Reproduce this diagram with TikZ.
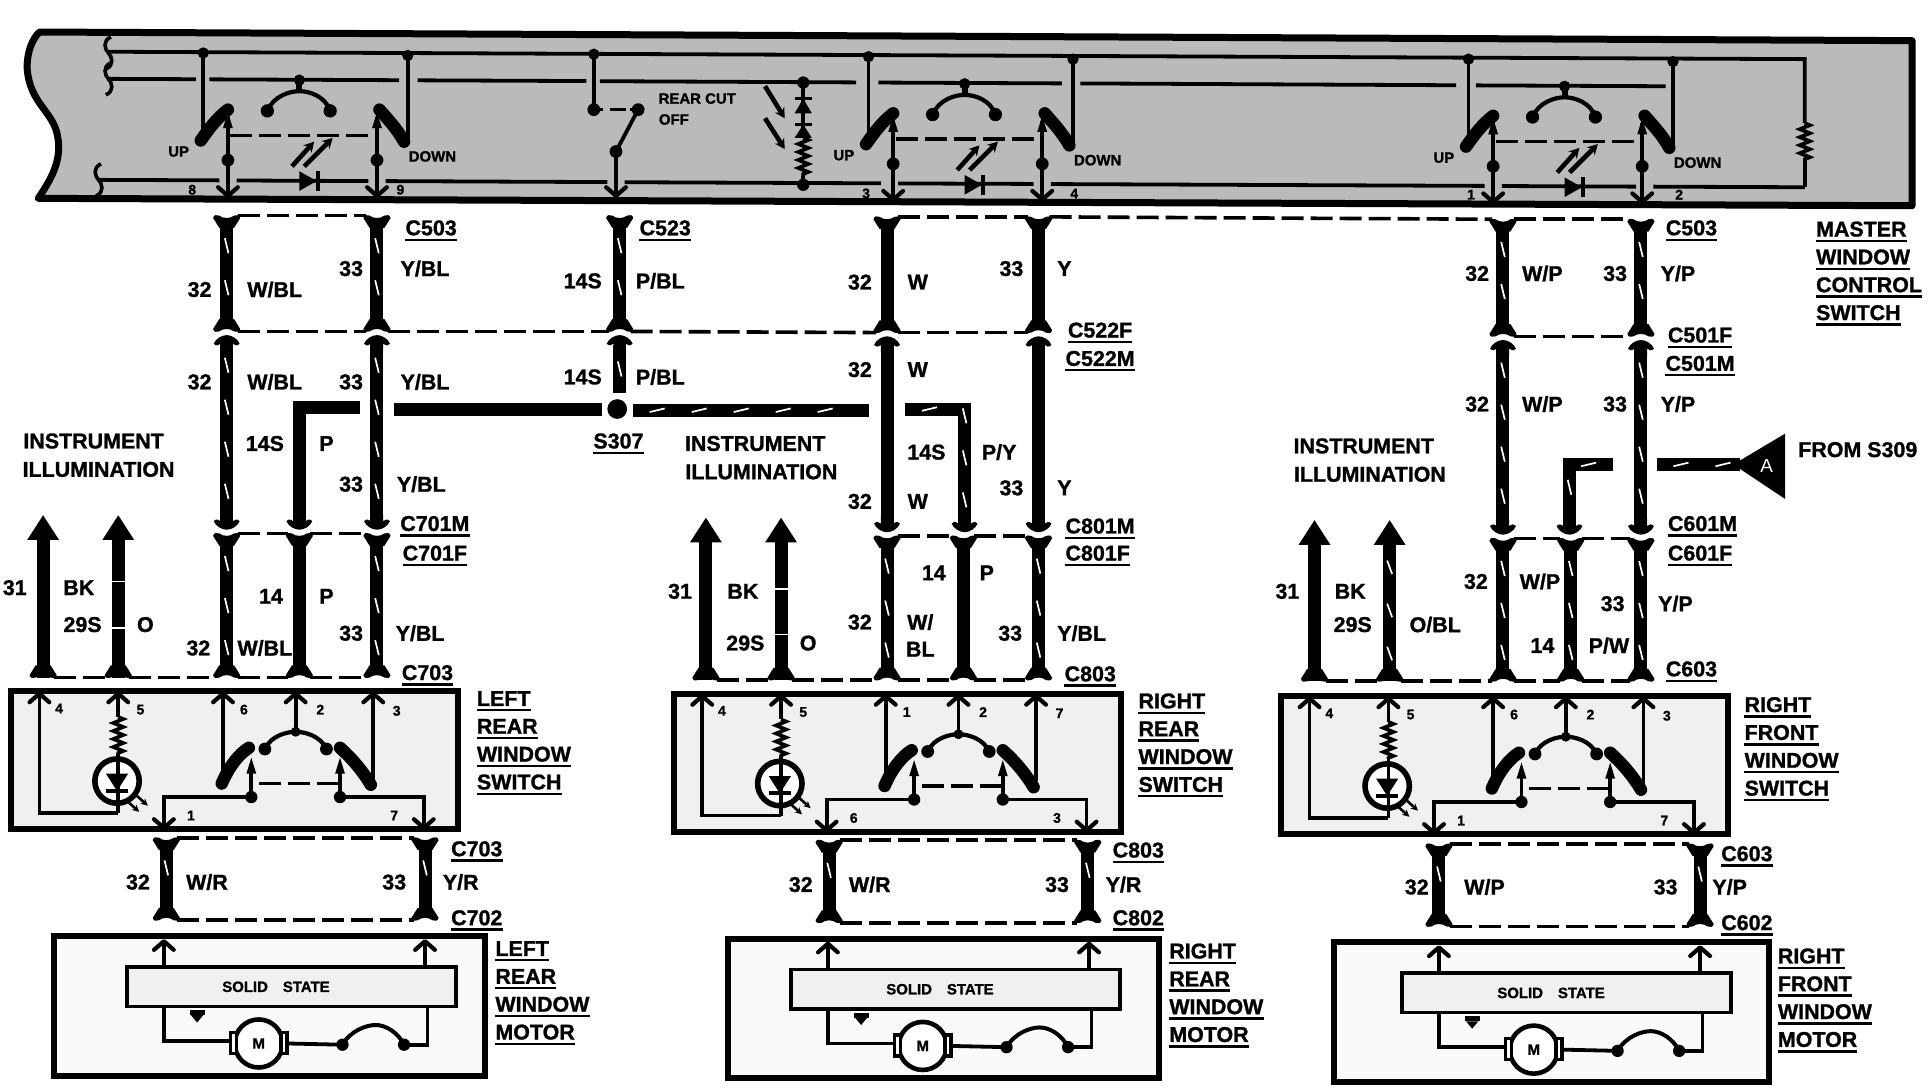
\documentclass[tikz,border=0pt]{standalone}
\usepackage{fontspec}
\setmainfont{Liberation Sans}[BoldFeatures={FakeBold=1.2}]
\usetikzlibrary{arrows.meta,decorations.pathmorphing,decorations.markings}
\newcount\nodeid
\newcommand\nid{\global\advance\nodeid by 1 \edef\curid{n\the\nodeid}}
\tikzset{
  lab/.style={inner sep=0pt,font=\bfseries\fontsize{21.5}{24}\selectfont,text=black},
  midlab/.style={inner sep=0pt,font=\bfseries\fontsize{15}{17}\selectfont,text=black},
  numlab/.style={inner sep=0pt,font=\bfseries\fontsize{14}{16}\selectfont,text=black},
  ul/.style={line width=2.4bp,black},
  wirew/.style={line width=13bp,black},
  thin1/.style={line width=3.8bp,black,line join=miter},
  thick1/.style={line width=12.5bp,black,line cap=round},
  dashl/.style={line width=3.6bp,black,dash pattern=on 22bp off 7bp,shorten >=11bp,shorten <=11bp},
  dashm/.style={line width=3.6bp,black,dash pattern=on 22bp off 7bp},
  forkl/.style={line width=4.2bp,black,line cap=round,line join=round},
  dotf/.style={fill=black,draw=none},
  stripes/.style={postaction={decorate,decoration={markings,mark=between positions 24bp and -14bp step 42bp with {\draw[white,line width=1.7bp] (-7.5bp,-1.8bp)--(7.5bp,1.8bp);}}}},
  zz/.style={line width=3.6bp,black,decorate,decoration={zigzag,segment length=8bp,amplitude=5bp}},
  boxl/.style={line width=6bp,black},
  panel/.style={line width=7bp,black,fill=black!27,line join=round},
  swbox/.style={boxl,fill=black!6},
  motbox/.style={boxl,fill=black!2},
  ssbox/.style={line width=3.6bp,black,fill=black!6},
  uparrow/.style={line width=13bp,black,-{Triangle[length=25bp,width=30bp]}},
  bolt/.style={line width=4.6bp,black,-{Stealth[length=10bp,width=11bp]}}
}
\newcommand\Lab[3]{\nid\node[lab] (\curid) at (#1,#2) {#3};}
\newcommand\MLab[3]{\nid\node[midlab] (\curid) at (#1,#2) {#3};}
\newcommand\NLab[3]{\nid\node[numlab] (\curid) at (#1,#2) {#3};}
\newcommand\ULab[4][center]{\nid\node[lab,anchor=#1] (\curid) at (#2,#3) {#4};
  \draw[ul] ([yshift=-4bp]\curid.south west)--([yshift=-4bp]\curid.south east);}
\newcommand\Stack[6]{\ULab[west]{#1}{#2}{#3}\ULab[west]{#1}{#2+22.6}{#4}\ULab[west]{#1}{#2+45.2}{#5}\ULab[west]{#1}{#2+67.8}{#6}}
\newcommand\ForkU[2]{\draw[forkl] (#1-8,#2-7)--(#1,#2)--(#1+8,#2-7);}
\newcommand\ForkD[2]{\draw[forkl] (#1-8,#2+7)--(#1,#2)--(#1+8,#2+7);}
% flared socket end: #3 = 1 wings up (wire below), #3 = -1 wings down
\newcommand\SockG[3]{\fill[dotf] (#1-6,#2+#3*10) -- (#1-11,#2+#3*2) .. controls (#1-10.5,#2+#3*-0.8) and (#1-8,#2+#3*-0.8) .. (#1-6,#2) .. controls (#1-3,#2+#3*2.6) and (#1+3,#2+#3*2.6) .. (#1+6,#2) .. controls (#1+8,#2+#3*-0.8) and (#1+10.5,#2+#3*-0.8) .. (#1+11,#2+#3*2) -- (#1+6,#2+#3*10) -- cycle;}
% pin end: tip at y, #3 = 1 body below, #3 = -1 body above
\newcommand\PinG[3]{\fill[dotf] (#1-10.5,#2+#3*7) .. controls (#1-9,#2+#3*3) and (#1-4,#2) .. (#1,#2) .. controls (#1+4,#2) and (#1+9,#2+#3*3) .. (#1+10.5,#2+#3*7) .. controls (#1+8.5,#2+#3*9) and (#1+6.5,#2+#3*8.5) .. (#1+5,#2+#3*7) -- (#1+5,#2+#3*13) -- (#1-5,#2+#3*13) -- (#1-5,#2+#3*7) .. controls (#1-6.5,#2+#3*8.5) and (#1-8.5,#2+#3*9) .. cycle;}
\newcommand\Wire[7][]{\coordinate (#2-t) at (#3,#4);\coordinate (#2-b) at (#3,#5);
  \draw[wirew,#1] (#3,#4+5)--(#3,#5-5);#6{#3}{#4}{1}#7{#3}{#5}{-1}}
\newcommand\DL[2]{\draw[dashl] (#1)--(#2);}
\newcommand\Brk[2]{\draw[line width=3.6bp,black] (#1+2,#2-13) .. controls (#1-5,#2-10) and (#1-3,#2-3) .. (#1,#2) .. controls (#1+3,#2+3) and (#1+5,#2+10) .. (#1-2,#2+13);}
\newcommand\Dot[3][4.6]{\fill[dotf] (#2,#3) circle[radius=#1];}
\newcommand\Bolts[2]{\draw[bolt] (#1-15,#2+9)--(#1+3,#2-11);\draw[bolt] (#1-5,#2+9)--(#1+18,#2-14);}
\newcommand\DiodeH[2]{\fill[dotf] (#1-7,#2-8)--(#1+7,#2)--(#1-7,#2+8)--cycle;\draw[line width=3.6bp,black] (#1+8,#2-8)--(#1+8,#2+8);}
% master switch group
\newcommand\MSw[7]{\begin{scope}[shift={(#2,#3)}]
  \coordinate (#1-up) at (165,43);\coordinate (#1-dn) at (331,45);
  \coordinate (#1-u2) at (185,95);\coordinate (#1-d2) at (306,95);
  \draw[thin1] (#1-up)--(165,110);
  \draw[thin1] (#1-dn)--(331,116);
  \Dot{165}{43}\Dot{331}{45}
  \draw[thick1] (163,114) .. controls (170,104) and (176,96) .. (185,89);
  \draw[thick1] (308,89) .. controls (314,96) and (322,104) .. (328,115);
  \Dot[4.6]{243}{65}
  \draw[line width=6bp,black] (243,66)--(243,75);
  \draw[line width=4.2bp,black] (217,90) .. controls (222,78) and (235,74) .. (243,74) .. controls (251,74) and (264,78) .. (268,90);
  \Dot[5.4]{217}{90}\Dot[5.4]{268}{90}
  \draw[thin1] (#1-u2)--(185,160);\draw[thin1] (#1-d2)--(306,160);
  \Dot[5.2]{185}{130}\Dot[5.2]{306}{130}
  \ForkU{185}{159}\ForkU{306}{159}
  \fill[dotf] (181,104)--(185,91)--(189,104)--cycle;\fill[dotf] (302,104)--(306,91)--(310,104)--cycle;
  \draw[dashm] (187,110)--(306,110);
  \Bolts{252}{126}
  \DiodeH{250}{147}
  \MLab{145}{123}{UP}\MLab{351}{127}{DOWN}
  \NLab{#6}{#7}{#4}\NLab{#6+169}{#7}{#5}
\end{scope}}
% switch module
\newcommand\WinSwitch[8]{\begin{scope}[shift={(#2,#3)}]
  \draw[swbox] (9,561) rectangle (372,673);
  \coordinate (#1-p4) at (32,563);\coordinate (#1-p5) at (96,563);
  \coordinate (#1-p6) at (181,563);\coordinate (#1-p2) at (240,563);\coordinate (#1-p3) at (303,563);
  \draw[thin1] (#1-p4)--(32,660)--(96,660);
  \draw[thin1] (#1-p5)--(96,582);
  \draw[zz] (96,582)--(96,612);
  \draw[thin1] (96,612)--(96,616);
  \draw[line width=5.6bp,black,fill=white] (95,634) circle[radius=18];
  \fill[dotf] (86,628)--(104,628)--(95,642)--cycle;
  \draw[thin1] (86,642)--(104,642);
  \draw[thin1] (96,616)--(96,660);
  \draw[bolt,line width=2.6bp,-{Stealth[length=7bp,width=7bp]}] (103,650)--(113,659);\draw[bolt,line width=2.6bp,-{Stealth[length=7bp,width=7bp]}] (110,645)--(120,654);
  \ForkD{32}{563}\ForkD{96}{563}\ForkD{181}{563}\ForkD{240}{563}\ForkD{303}{563}
  \NLab{48}{575}{4}\NLab{114}{576}{5}\NLab{198}{576}{#4}\NLab{260}{576}{#5}\NLab{322}{577}{#6}
  \draw[thin1] (#1-p6)--(181,630);
  \draw[thin1] (#1-p2)--(240,594);
  \draw[thin1] (#1-p3)--(303,632);
  \draw[thick1] (180,636) .. controls (186,622) and (194,612) .. (202,607);
  \draw[thick1] (276,607) .. controls (284,614) and (294,625) .. (301,637);
  \draw[line width=4.2bp,black] (215,608) .. controls (220,597) and (233,594) .. (240,594) .. controls (247,594) and (260,597) .. (265,608);
  \Dot[5.2]{215}{608}\Dot[5.2]{265}{608}
  \Dot[4]{240}{594}
  \fill[dotf] (200,628)--(204,615)--(208,628)--cycle;\fill[dotf] (272,628)--(276,615)--(280,628)--cycle;
  \draw[thin1] (204,620)--(204,647);\draw[thin1] (276,620)--(276,647);
  \draw[dashm] (210,636)--(276,636);
  \Dot[5]{204}{647}\Dot[5]{276}{647}
  \draw[thin1] (204,647)--(133,647)--(133,672);\draw[thin1] (276,647)--(344,647)--(344,672);
  \ForkU{133}{672}\ForkU{344}{672}
  \NLab{155}{662}{#7}\NLab{320}{662}{#8}
\end{scope}}
% motor module
\newcommand\WinMotor[5]{\draw[motbox] (#4,760+#3) rectangle (#5,873+#3);
\begin{scope}[shift={(#2,#3)}]
  \coordinate (#1-l) at (133,764);\coordinate (#1-r) at (345,764);
  \draw[thin1] (#1-l)--(133,785);\draw[thin1] (#1-r)--(345,785);
  \ForkD{133}{764}\ForkD{345}{764}
  \draw[ssbox] (103,785) rectangle (370,817);
  \MLab{224}{801}{SOLID\quad STATE}
  \fill[dotf] (154,820) rectangle (166,824);\fill[dotf] (155,824)--(165,824)--(160,830)--cycle;
  \draw[thin1] (133,817)--(133,845)--(187,845);
  \draw[line width=4.6bp,black,fill=white] (210,847) circle[radius=19.5];
  \draw[line width=3.6bp,black,fill=white] (187,838) rectangle (192,855);
  \draw[line width=3.6bp,black,fill=white] (228,838) rectangle (233,855);
  \node[midlab] (#1-m) at (210,847) {M};
  \draw[thin1] (233,847)--(278,848);
  \draw[line width=4bp,black] (278,848) .. controls (285,836) and (298,832) .. (305,832) .. controls (313,832) and (323,838) .. (328,848);
  \Dot[5]{278}{848}\Dot[5]{328}{848}
  \draw[thin1] (328,848)--(347,848)--(347,817);
\end{scope}}
\begin{document}
\begin{tikzpicture}[x=1.232bp,y=-1.232bp]
\useasboundingbox (0,0) rectangle (1565,883);
% master panel
\draw[panel] (32,26) -- (1552,33) -- (1552,167) -- (31,161) .. controls (42,145) and (50,130) .. (47,112) .. controls (44,90) and (24,85) .. (22,55) .. controls (22,42) and (26,32) .. (32,26) -- cycle;
\Brk{88}{43}\Brk{88}{64}\Brk{80}{146}
\draw[thin1] (88,42)--(1465,48)--(1465,100);
\draw[zz] (1465,100)--(1465,130);
\draw[thin1] (1465,130)--(1465,152);
\draw[thin1] (87,64)--(159,64.3) (170,64.4)--(324,65.1) (339,65.2)--(476,65.8) (487,65.9)--(695,66.9) (713,67)--(862,67.7) (877,67.7)--(1182,69.2) (1198,69.3)--(1352,70);
\draw[thin1] (80,146)--(178,146.4) (192,146.5)--(299,147) (313,147)--(493,147.8) (507,147.9)--(715,148.8) (729,148.9)--(839,149.3) (853,149.4)--(1205,150.9) (1219,151)--(1328,151.5) (1342,151.5)--(1465,152);
\MSw{sa}{0}{0}{8}{9}{156}{154}
\MSw{sb}{540}{3}{3}{4}{163}{154}
\MSw{sc}{1027}{5}{1}{2}{167}{153}
% rear cut off
\coordinate (rc1) at (482,44);\coordinate (rc2) at (482,89);\coordinate (rc3) at (518,89);\coordinate (rc4) at (500,123);\coordinate (rc5) at (500,160);
\Dot{482}{44}
\draw[thin1] (rc1)--(rc2);
\draw[dashm,dash pattern=on 9bp off 7bp on 16bp off 4bp] (rc2)--(rc3);
\Dot[5.2]{482}{89}\Dot[5.2]{518}{89}\Dot[5.2]{500}{123}
\draw[line width=3.8bp,black] (rc3)--(rc4);
\draw[thin1] (rc4)--(rc5);\ForkU{500}{159}
\MLab{566}{80}{REAR CUT}\MLab{547}{97}{OFF}
% panel stack
\Dot[5]{652}{67}
\draw[thin1] (652,67)--(652,112);
\fill[dotf] (645,92)--(659,92)--(652,80)--cycle;
\draw[line width=3.8bp,black] (645,80)--(659,80);
\fill[dotf] (645,112)--(659,112)--(652,101)--cycle;
\draw[line width=3.8bp,black] (645,101)--(659,101);
\draw[zz] (652,112)--(652,143);
\draw[thin1] (652,143)--(652,150);
\Dot[5]{652}{150}
\draw[bolt] (621,70)--(637,96);\draw[bolt] (621,96)--(637,121);
% top wires
\Wire[stripes]{a1}{184}{175}{269}{\SockG}{\SockG}
\Wire[stripes]{a2}{306}{175}{269}{\SockG}{\SockG}
\Wire[stripes]{a3}{503}{175}{269}{\SockG}{\SockG}
\Wire{b1}{720}{176}{270}{\SockG}{\SockG}
\Wire{b2}{843}{176}{270}{\SockG}{\SockG}
\Wire[stripes]{c1}{1220}{178}{273}{\SockG}{\SockG}
\Wire[stripes]{c2}{1332}{178}{273}{\SockG}{\SockG}
\DL{a1-t}{a2-t}\DL{b1-t}{b2-t}\DL{b2-t}{c1-t}\DL{c1-t}{c2-t}
\DL{a1-b}{a2-b}\DL{a2-b}{a3-b}\DL{a3-b}{b1-b}\DL{b1-b}{b2-b}\DL{c1-b}{c2-b}
% middle wires
\Wire[stripes]{d1}{184}{272}{430}{\PinG}{\PinG}
\Wire[stripes]{d2}{306}{272}{430}{\PinG}{\PinG}
\Wire{e1}{720}{273}{432}{\PinG}{\PinG}
\Wire{e2}{843}{273}{432}{\PinG}{\PinG}
\Wire[stripes]{f1}{1220}{276}{434}{\PinG}{\PinG}
\Wire[stripes]{f2}{1332}{276}{434}{\PinG}{\PinG}
% centre feed
\coordinate (s307) at (501,332);
\coordinate (a3m) at (503,280);\coordinate (a3e) at (503,319);
\draw[wirew,stripes] (a3m)--(a3e);\PinG{503}{272}{1}
\coordinate (pa) at (292,331);\coordinate (pb) at (243,331);\coordinate (pc) at (243,425);
\draw[wirew,line join=miter] (pa)--(pb)--(pc);\PinG{243}{430}{-1}
\coordinate (pd) at (320,332);\coordinate (pdd) at (488.5,332);\coordinate (pf) at (514,333);\coordinate (pe) at (705,333);
\draw[wirew] (pd)--(pdd);
\draw[wirew,stripes] (pf)--(pe);
\fill[dotf] (s307) circle[radius=8];
\coordinate (qa) at (735,332);\coordinate (qb) at (783,332);\coordinate (qc) at (783,427);
\draw[wirew,stripes,line join=miter] (qa)--(qb)--(qc);\PinG{783}{432}{-1}
\coordinate (ra) at (1309,377);\coordinate (rb) at (1274,377);\coordinate (rc) at (1274,429);
\draw[wirew,stripes,line join=miter] (ra)--(rb)--(rc);\PinG{1274}{434}{-1}
\coordinate (rd) at (1345,377);\coordinate (re) at (1412,377);
\draw[wirew,stripes] (rd)--(re);
\fill[dotf] (1407,377)--(1449,352)--(1449,405)--cycle;
\node[lab,text=white,font=\fontsize{19}{20}\selectfont] (tA) at (1434,378) {A};
% low wires
\Wire[stripes]{g1}{184}{433}{550}{\SockG}{\SockG}
\Wire{g2}{243}{433}{550}{\SockG}{\SockG}
\Wire[stripes]{g3}{306}{433}{550}{\SockG}{\SockG}
\Wire[stripes]{h1}{720}{435}{552}{\SockG}{\SockG}
\Wire{h2}{782}{435}{552}{\SockG}{\SockG}
\Wire[stripes]{h3}{843}{435}{552}{\SockG}{\SockG}
\Wire[stripes]{i1}{1220}{437}{553}{\SockG}{\SockG}
\Wire[stripes]{i2}{1275}{437}{553}{\SockG}{\SockG}
\Wire[stripes]{i3}{1332}{437}{553}{\SockG}{\SockG}
\DL{g1-t}{g2-t}\DL{g2-t}{g3-t}\DL{h1-t}{h2-t}\DL{h2-t}{h3-t}\DL{i1-t}{i2-t}\DL{i2-t}{i3-t}
% illumination arrows
\coordinate (ja) at (35,550);\coordinate (jb) at (35,418);\coordinate (jc) at (96,550);\coordinate (jd) at (96,418);
\coordinate (ka) at (573,552);\coordinate (kb) at (573,420);\coordinate (kc) at (634,552);\coordinate (kd) at (634,420);
\coordinate (la) at (1067,553);\coordinate (lb) at (1067,422);\coordinate (lc) at (1128,553);\coordinate (ld) at (1128,422);
\draw[uparrow] (ja)--(jb);\draw[uparrow] (jc)--(jd);\draw[uparrow] (ka)--(kb);\draw[uparrow] (kc)--(kd);\draw[uparrow] (la)--(lb);\draw[uparrow] (lc)--(ld);
\SockG{35}{550}{-1}\SockG{96}{550}{-1}\SockG{573}{552}{-1}\SockG{634}{552}{-1}\SockG{1067}{553}{-1}\SockG{1128}{553}{-1}
\draw[white,line width=1.8bp] (90,472)--(102,472) (90,510)--(102,510);
\draw[white,line width=1.8bp] (628,478)--(640,478) (628,515)--(640,515);
\draw[white,line width=1.7bp] (1126,455)--(1130,466) (1126,490)--(1130,501) (1126,525)--(1130,536);
\DL{ja}{jc}\DL{jc}{g1-b}\DL{g1-b}{g2-b}\DL{g2-b}{g3-b}
\DL{ka}{kc}\DL{kc}{h1-b}\DL{h1-b}{h2-b}\DL{h2-b}{h3-b}
\DL{la}{lc}\DL{lc}{i1-b}\DL{i1-b}{i2-b}\DL{i2-b}{i3-b}
% modules
\WinSwitch{ma}{0}{0}{6}{2}{3}{1}{7}
\WinSwitch{mb}{538}{2}{1}{2}{7}{6}{3}
\WinSwitch{mc}{1031}{4}{6}{2}{3}{1}{7}
% lower wires
\Wire[stripes]{la1}{135}{680}{747}{\SockG}{\SockG}\Wire[stripes]{la2}{345}{680}{747}{\SockG}{\SockG}
\Wire[stripes]{lb1}{673}{682}{749}{\SockG}{\SockG}\Wire[stripes]{lb2}{883}{682}{749}{\SockG}{\SockG}
\Wire[stripes]{lc1}{1168}{685}{752}{\SockG}{\SockG}\Wire[stripes]{lc2}{1380}{685}{752}{\SockG}{\SockG}
\DL{la1-t}{la2-t}\DL{la1-b}{la2-b}
\DL{lb1-t}{lb2-t}\DL{lb1-b}{lb2-b}
\DL{lc1-t}{lc2-t}\DL{lc1-b}{lc2-b}
\WinMotor{oa}{0}{0}{44}{394}
\WinMotor{ob}{539}{2}{591}{941}
\WinMotor{oc}{1035}{5}{1083}{1436}
% labels left column
\ULab{350}{185}{C503}\ULab{540}{185}{C523}
\Lab{162}{235}{32}\Lab{223}{235}{W/BL}\Lab{285}{218}{33}\Lab{345}{218}{Y/BL}
\Lab{473}{228}{14S}\Lab{536}{228}{P/BL}\Lab{473}{306}{14S}\Lab{536}{306}{P/BL}
\ULab{502}{358}{S307}
\Lab{162}{310}{32}\Lab{223}{310}{W/BL}\Lab{285}{310}{33}\Lab{345}{310}{Y/BL}
\Lab{215}{360}{14S}\Lab{265}{360}{P}\Lab{285}{393}{33}\Lab{342}{393}{Y/BL}
\ULab{353}{425}{C701M}\ULab{353}{449}{C701F}
\Lab{220}{484}{14}\Lab{265}{484}{P}\Lab{285}{514}{33}\Lab{341}{514}{Y/BL}
\Lab{161}{526}{32}\Lab{215}{526}{W/BL}\ULab{347}{546}{C703}
\Lab{76}{358}{INSTRUMENT}\Lab{80}{381}{ILLUMINATION}
\Lab{12}{477}{31}\Lab{64}{477}{BK}\Lab{67}{507}{29S}\Lab{118}{507}{O}
\Stack{387}{567}{LEFT}{REAR}{WINDOW}{SWITCH}
\ULab{387}{689}{C703}\ULab{387}{745}{C702}
\Lab{112}{716}{32}\Lab{168}{716}{W/R}\Lab{320}{716}{33}\Lab{374}{716}{Y/R}
\Stack{402}{770}{LEFT}{REAR}{WINDOW}{MOTOR}
% labels middle column
\ULab{893}{268}{C522F}\ULab{893}{291}{C522M}
\Lab{698}{229}{32}\Lab{745}{229}{W}\Lab{821}{218}{33}\Lab{864}{218}{Y}
\Lab{698}{300}{32}\Lab{745}{300}{W}
\Lab{752}{367}{14S}\Lab{811}{367}{P/Y}\Lab{821}{396}{33}\Lab{864}{396}{Y}
\Lab{698}{407}{32}\Lab{745}{407}{W}
\Lab{758}{465}{14}\Lab{801}{465}{P}
\Lab{698}{505}{32}\Lab{747}{505}{W/}\Lab{747}{527}{BL}\Lab{820}{514}{33}\Lab{878}{514}{Y/BL}
\ULab{893}{427}{C801M}\ULab{891}{449}{C801F}\ULab{885}{547}{C803}
\Lab{613}{360}{INSTRUMENT}\Lab{618}{383}{ILLUMINATION}
\Lab{552}{480}{31}\Lab{603}{480}{BK}\Lab{605}{522}{29S}\Lab{656}{522}{O}
\Stack{924}{569}{RIGHT}{REAR}{WINDOW}{SWITCH}
\ULab{924}{690}{C803}\ULab{924}{745}{C802}
\Lab{650}{718}{32}\Lab{706}{718}{W/R}\Lab{858}{718}{33}\Lab{912}{718}{Y/R}
\Stack{949}{772}{RIGHT}{REAR}{WINDOW}{MOTOR}
% labels right column
\ULab{1373}{185}{C503}
\Lab{1199}{222}{32}\Lab{1252}{222}{W/P}\Lab{1311}{222}{33}\Lab{1362}{222}{Y/P}
\ULab{1380}{272}{C501F}\ULab{1380}{295}{C501M}
\Lab{1199}{328}{32}\Lab{1252}{328}{W/P}\Lab{1311}{328}{33}\Lab{1362}{328}{Y/P}
\Lab{1107}{362}{INSTRUMENT}\Lab{1112}{385}{ILLUMINATION}
\Lab{1508}{365}{FROM S309}
\ULab{1382}{425}{C601M}\ULab{1380}{449}{C601F}
\Lab{1198}{472}{32}\Lab{1250}{472}{W/P}\Lab{1309}{490}{33}\Lab{1360}{490}{Y/P}
\Lab{1252}{524}{14}\Lab{1306}{524}{P/W}\ULab{1373}{543}{C603}
\Lab{1045}{480}{31}\Lab{1096}{480}{BK}\Lab{1098}{507}{29S}\Lab{1165}{507}{O/BL}
\Stack{1474}{186}{MASTER}{WINDOW}{CONTROL}{SWITCH}
\Stack{1416}{572}{RIGHT}{FRONT}{WINDOW}{SWITCH}
\ULab{1418}{693}{C603}\ULab{1418}{749}{C602}
\Lab{1150}{720}{32}\Lab{1205}{720}{W/P}\Lab{1352}{720}{33}\Lab{1404}{720}{Y/P}
\Stack{1443}{776}{RIGHT}{FRONT}{WINDOW}{MOTOR}
\end{tikzpicture}
\end{document}
